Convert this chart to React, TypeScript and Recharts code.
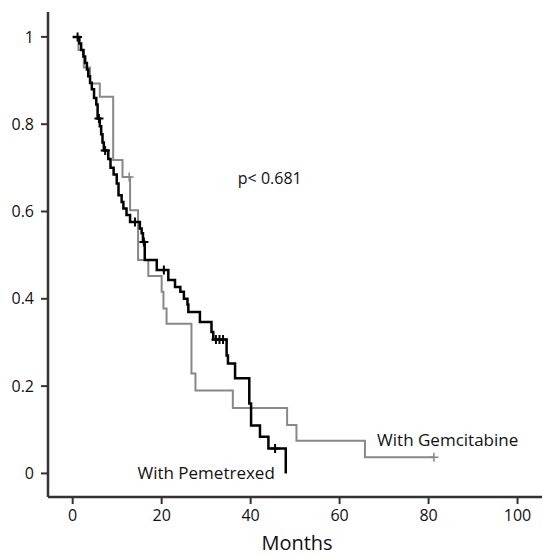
import React from "react";
import { ComposedChart, Line, XAxis, YAxis, ReferenceDot, Label } from "recharts";

// With Pemetrexed (black)
const pemTime = [0, 1.1, 1.5, 1.9, 2.4, 2.8, 3.2, 3.5, 3.9, 4.3, 4.8, 5.3, 5.6, 5.9, 6.1, 6.4, 6.7, 7.0, 7.3, 8.0, 8.5, 9.2, 9.9, 10.3, 11.0, 11.4, 12.1, 12.9, 14.0, 15.1, 15.5, 15.8, 16.0, 16.2, 18.9, 20.5, 21.5, 23.0, 24.2, 25.0, 25.8, 26.0, 28.6, 31.2, 31.6, 32.2, 33.0, 33.8, 34.6, 34.9, 36.5, 39.7, 40.1, 42.1, 44.0, 45.5, 47.9];
const pemSurv = [1, 1, 0.985, 0.97, 0.955, 0.94, 0.925, 0.91, 0.895, 0.88, 0.86, 0.845, 0.813, 0.813, 0.795, 0.777, 0.758, 0.74, 0.74, 0.72, 0.7, 0.685, 0.664, 0.637, 0.622, 0.607, 0.592, 0.576, 0.576, 0.561, 0.55, 0.53, 0.53, 0.489, 0.466, 0.466, 0.443, 0.427, 0.416, 0.4, 0.387, 0.37, 0.347, 0.324, 0.307, 0.307, 0.307, 0.307, 0.27, 0.252, 0.218, 0.16, 0.11, 0.084, 0.057, 0.057, 0];
const pemCensored = [0, 1, 0, 0, 0, 0, 0, 0, 0, 0, 0, 0, 0, 1, 0, 0, 0, 0, 1, 0, 0, 0, 0, 0, 0, 0, 0, 0, 1, 0, 0, 0, 1, 0, 0, 1, 0, 0, 0, 0, 0, 0, 0, 0, 0, 1, 1, 1, 0, 0, 0, 0, 0, 0, 0, 1, 0];

// With Gemcitabine (gray)
const gemTime = [0, 1.3, 2.5, 3.9, 6.1, 9.1, 11.2, 12.7, 12.9, 14.7, 17.0, 20.0, 20.4, 21.1, 26.7, 27.6, 36.0, 48.2, 50.3, 65.7, 81.2];
const gemSurv = [1, 0.97, 0.93, 0.893, 0.863, 0.718, 0.679, 0.679, 0.603, 0.489, 0.452, 0.416, 0.378, 0.343, 0.229, 0.19, 0.15, 0.111, 0.075, 0.037, 0.037];
const gemCensored = [0, 0, 0, 0, 0, 0, 0, 1, 0, 0, 0, 0, 0, 0, 0, 0, 0, 0, 0, 0, 1];

const xTicks = [0, 20, 40, 60, 80, 100];
const yTicks = [0, 0.2, 0.4, 0.6, 0.8, 1];

const pemData = pemTime.map((t, i) => ({ t, s: pemSurv[i], c: pemCensored[i] }));
const gemData = gemTime.map((t, i) => ({ t, s: gemSurv[i], c: gemCensored[i] }));

const FONT = "'Open Sans', 'Noto Sans', sans-serif";
const X_DOMAIN: [number, number] = [-5.55, 105.5];
const Y_DOMAIN: [number, number] = [-0.054, 1.057];

const makeCross = (color: string, w: number) => (props: any) => {
  const { cx, cy, payload, index } = props;
  if (!payload || !payload.c || cx == null || cy == null) return <g key={`n${index}`} />;
  return (
    <path
      key={`c${index}`}
      d={`M${cx - 4.5},${cy}H${cx + 4.5}M${cx},${cy - 4.5}V${cy + 4.5}`}
      stroke={color}
      strokeWidth={w}
      fill="none"
    />
  );
};

export default function App() {
  return (
    <div style={{ position: "absolute", left: 0, top: 0, background: "#fff" }}>
      <ComposedChart
        width={543}
        height={556}
        margin={{ top: 12, right: 1, left: 0, bottom: 0 }}
        style={{ fontFamily: FONT }}
      >
        <XAxis
          xAxisId="main"
          dataKey="t"
          type="number"
          domain={X_DOMAIN}
          ticks={xTicks}
          allowDataOverflow
          height={59}
          tickSize={7}
          tickMargin={6}
          axisLine={{ stroke: "#333", strokeWidth: 2.5 }}
          tickLine={{ stroke: "#333", strokeWidth: 2 }}
          tick={{ fontSize: 16, fill: "#111", fontFamily: FONT }}
        >
          <Label value="Months" position="insideBottom" offset={6} dx={2} fontSize={20} fill="#111" fontFamily={FONT} />
        </XAxis>
        <XAxis
          xAxisId="top"
          orientation="top"
          type="number"
          domain={X_DOMAIN}
          height={0}
          tick={false}
          tickLine={false}
          axisLine={{ stroke: "#555", strokeWidth: 2.5 }}
        />
        <YAxis
          yAxisId="main"
          type="number"
          domain={Y_DOMAIN}
          ticks={yTicks}
          allowDataOverflow
          width={48}
          tickSize={7}
          tickMargin={7}
          axisLine={{ stroke: "#333", strokeWidth: 2.5 }}
          tickLine={{ stroke: "#333", strokeWidth: 2 }}
          tick={{ fontSize: 16, fill: "#111", fontFamily: FONT }}
        />
        <YAxis
          yAxisId="right"
          orientation="right"
          type="number"
          domain={Y_DOMAIN}
          width={0}
          tick={false}
          tickLine={false}
          axisLine={{ stroke: "#c8c8c8", strokeWidth: 1.5 }}
        />
        <Line
          xAxisId="main"
          yAxisId="main"
          data={gemData}
          dataKey="s"
          type="stepAfter"
          stroke="#888888"
          strokeWidth={2}
          dot={makeCross("#888888", 1.5)}
          activeDot={false}
          isAnimationActive={false}
        />
        <Line
          xAxisId="main"
          yAxisId="main"
          data={pemData}
          dataKey="s"
          type="stepAfter"
          stroke="#000000"
          strokeWidth={2.5}
          dot={makeCross("#000000", 2)}
          activeDot={false}
          isAnimationActive={false}
        />
        <ReferenceDot xAxisId="main" yAxisId="main" x={44.3} y={0.676} r={0} stroke="none" fill="none">
          <Label value="p< 0.681" position="center" fontSize={16} fill="#111" fontFamily={FONT} />
        </ReferenceDot>
        <ReferenceDot xAxisId="main" yAxisId="main" x={30.0} y={0.0} r={0} stroke="none" fill="none">
          <Label value="With Pemetrexed" position="center" fontSize={17} fill="#111" fontFamily={FONT} />
        </ReferenceDot>
        <ReferenceDot xAxisId="main" yAxisId="main" x={84.3} y={0.076} r={0} stroke="none" fill="none">
          <Label value="With Gemcitabine" position="center" fontSize={17} fill="#111" fontFamily={FONT} />
        </ReferenceDot>
      </ComposedChart>
    </div>
  );
}
